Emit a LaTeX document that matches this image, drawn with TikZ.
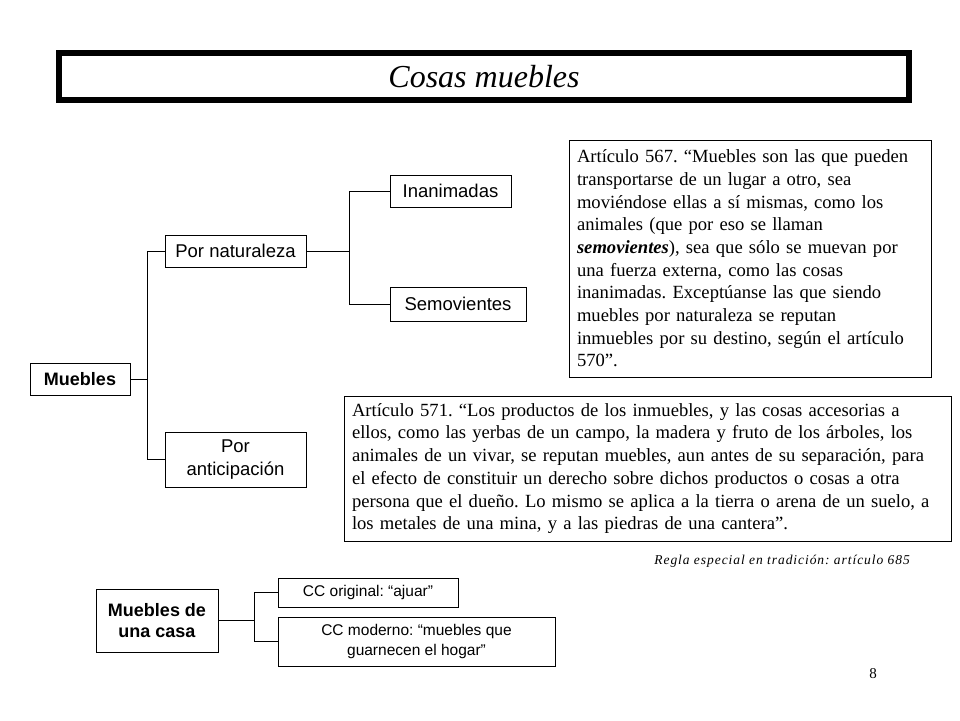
\documentclass[tikz,border=0pt]{standalone}
\usepackage{fontspec}
\setmainfont{Liberation Serif}
\setsansfont{Liberation Sans}
\newfontfamily\reglafont[LetterSpace=7]{Liberation Serif}
\frenchspacing
\begin{document}
\begin{tikzpicture}[x=1pt,y=-1pt]
		\tikzstyle{trait}=[line width=0.8pt]
		\tikzstyle{boite}=[draw,line width=0.8pt,inner sep=0pt,align=center,font=\sffamily\fontsize{18.5}{23}\selectfont]
		\tikzstyle{boitegras}=[boite,font=\sffamily\bfseries\fontsize{18}{21}\selectfont]
		\tikzstyle{petiteboite}=[boite,font=\sffamily\fontsize{15.5}{20}\selectfont]
		\tikzstyle{article}=[draw,line width=0.8pt,inner xsep=8pt,inner ysep=0pt,align=left,font=\fontsize{18.6}{22.7}\selectfont]
		\useasboundingbox (0,0) rectangle (960,720);
		\node[draw,line width=6pt,minimum width=850pt,minimum height=47pt,font=\itshape\fontsize{32}{36}\selectfont] (T) at (484,76.5) {Cosas muebles};
		\node[boitegras,minimum width=100pt,minimum height=32pt] (M) at (80,379) {Muebles};
		\node[boite,minimum width=141pt,minimum height=32pt] (Mn) at (235.5,251) {Por naturaleza};
		\node[boite,minimum width=141pt,minimum height=55pt] (Ma) at (235.5,459.5) {Por\\anticipación};
		\node[boite,minimum width=121pt,minimum height=32pt] (Mni) at (450.5,191) {Inanimadas};
		\node[boite,minimum width=136pt,minimum height=34pt] (Mns) at (458,304) {Semovientes};
		\coordinate (J1) at (147,379);
		\coordinate (J2) at (349,251);
		\draw[trait] (M)--(J1);
		\draw[trait] (J1) |- (Mn);
		\draw[trait] (J1) |- (Ma);
		\draw[trait] (Mn)--(J2);
		\draw[trait] (J2) |- (Mni);
		\draw[trait] (J2) |- (Mns);
		\node[article,text width=346pt,minimum height=237pt] (A567) at (750,258.5) {Artículo 567. “Muebles son las que pueden\\
			transportarse de un lugar a otro, sea\\
			moviéndose ellas a sí mismas, como los\\
			animales (que por eso se llaman\\
			\textbf{\textit{semovientes}}), sea que sólo se muevan por\\
			una fuerza externa, como las cosas\\
			inanimadas. Exceptúanse las que siendo\\
			muebles por naturaleza se reputan\\
			inmuebles por su destino, según el artículo\\
			570”.};
		\node[article,text width=591pt,minimum height=145pt] (A571) at (647.5,468.5) {Artículo 571. “Los productos de los inmuebles, y las cosas accesorias a\\
			ellos, como las yerbas de un campo, la madera y fruto de los árboles, los\\
			animales de un vivar, se reputan muebles, aun antes de su separación, para\\
			el efecto de constituir un derecho sobre dichos productos o cosas a otra\\
			persona que el dueño. Lo mismo se aplica a la tierra o arena de un suelo, a\\
			los metales de una mina, y a las piedras de una cantera”.};
		\node[anchor=east,inner sep=0pt,font=\reglafont\itshape\fontsize{13.5}{16}\selectfont] (R) at (910,561) {Regla especial en tradición: artículo 685};
		\node[boitegras,minimum width=122pt,minimum height=63pt] (C) at (157,620.5) {Muebles de\\una casa};
		\node[petiteboite,minimum width=180pt,minimum height=29pt] (Co) at (368,592.5) {CC original: “ajuar”};
		\node[petiteboite,minimum width=277pt,minimum height=49pt] (Cm) at (416.5,641.5) {CC moderno: “muebles que\\guarnecen el hogar”};
		\coordinate (J3) at (254,620.5);
		\draw[trait] (C)--(J3);
		\draw[trait] (J3) |- (Co);
		\draw[trait] (J3) |- (Cm);
		\node[inner sep=0pt,font=\fontsize{15}{18}\selectfont] (P) at (873,674) {8};
	\end{tikzpicture}
\end{document}
